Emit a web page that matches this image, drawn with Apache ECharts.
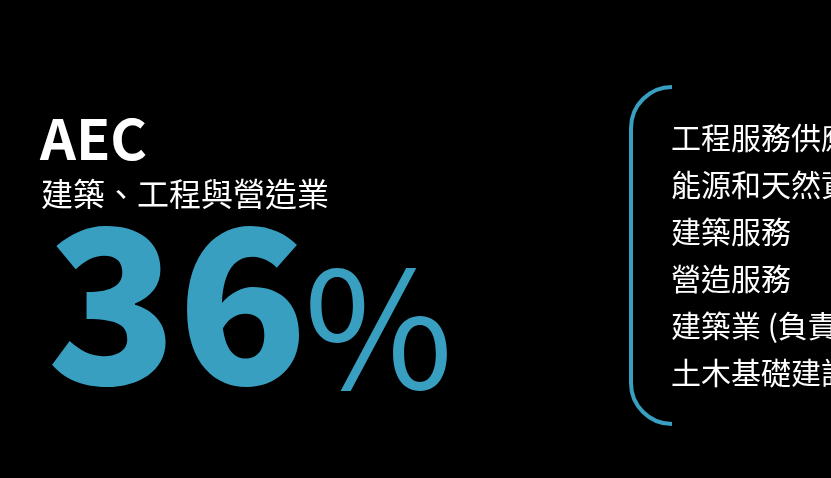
<!DOCTYPE html>
<html><head><meta charset="utf-8">
<style>html,body{margin:0;padding:0;background:#000;}#c{width:831px;height:478px;}</style>
<script src="https://cdn.jsdelivr.net/npm/echarts@6/dist/echarts.min.js"></script>
</head><body><div id="c"></div>
<script>
const headline = 'AEC';
const subtitle = '建築、工程與營造業';
const shareValue = [36];
const shareUnit = ['%'];
const segments = ['工程服務供應商', '能源和天然資源', '建築服務', '營造服務', '建築業 (負責人)', '土木基礎建設'];

const BLUE = '#389fc0';
const CJK = 'Noto Sans CJK TC';
const chart = echarts.init(document.getElementById('c'), null, {renderer: 'canvas'});

function txt(s, x, y, size, weight, color) {
  return {type: 'text', x: x, y: y, style: {text: s, fill: color, fontSize: size, fontWeight: weight, fontFamily: CJK, verticalAlign: 'middle', align: 'left'}};
}

const graphics = [
  txt(headline, 40, 139, 56, 'bold', '#fff'),
  txt(subtitle, 41, 194, 32, 'normal', '#fff'),
  txt(String(shareValue[0]), 47, 303, 214, 900, BLUE),
  txt(shareUnit[0], 304, 327, 162, 'normal', BLUE),
  {type: 'arc', shape: {cx: 672, cy: 128, r: 41, startAngle: Math.PI, endAngle: Math.PI * 1.5, clockwise: true},
   style: {stroke: BLUE, lineWidth: 4, fill: null}},
  {type: 'line', shape: {x1: 631, y1: 128, x2: 631, y2: 383}, style: {stroke: BLUE, lineWidth: 4}},
  {type: 'arc', shape: {cx: 672, cy: 383, r: 41, startAngle: Math.PI / 2, endAngle: Math.PI, clockwise: true},
   style: {stroke: BLUE, lineWidth: 4, fill: null}}
];
segments.forEach((s, i) => {
  graphics.push(txt(s, 671, 138 + i * 47, 30, 'normal', '#fff'));
});

chart.setOption({backgroundColor: '#000', graphic: graphics});
</script></body></html>
